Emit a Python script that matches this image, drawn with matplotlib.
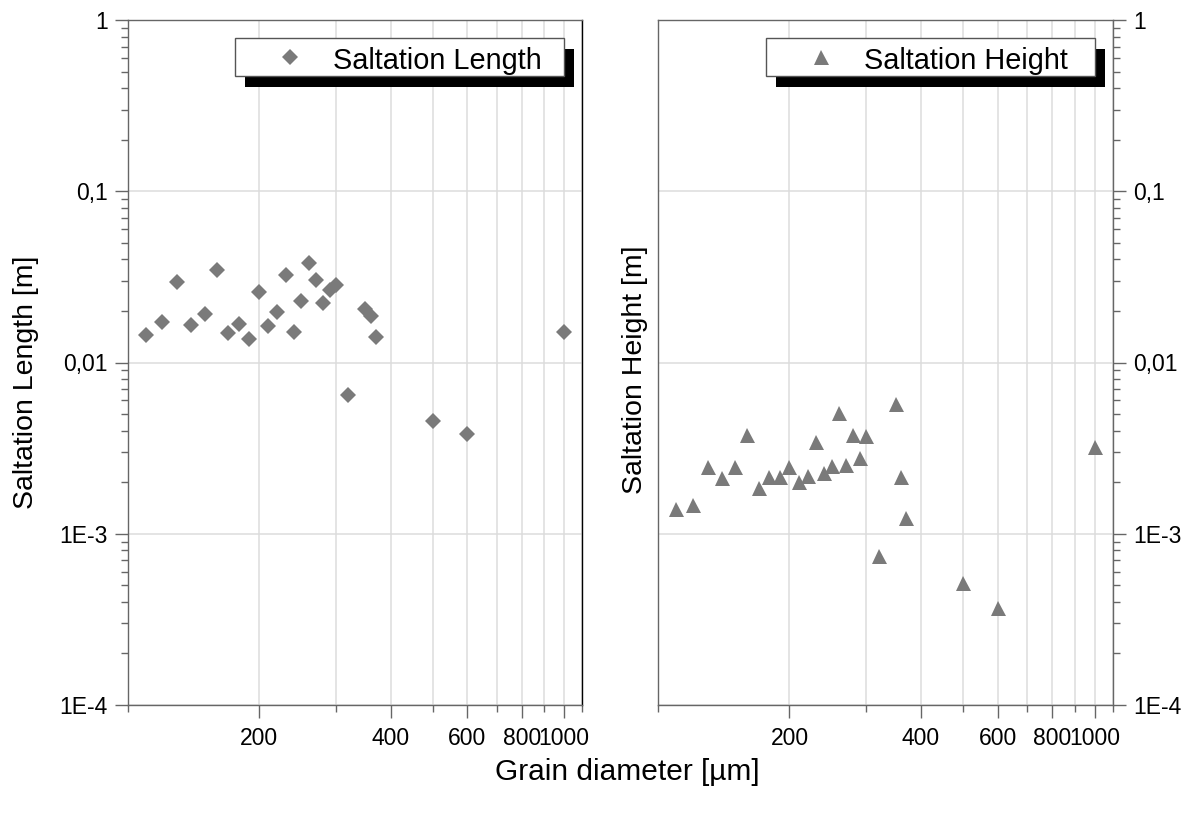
import matplotlib
matplotlib.use('Agg')
import matplotlib.pyplot as plt
from matplotlib.ticker import FixedLocator, FixedFormatter, NullFormatter, LogLocator
from matplotlib.patches import Rectangle

# ---------------- data ----------------
grain_diameter = [110, 120, 130, 140, 150, 160, 170, 180, 190, 200, 210, 220, 230, 240,
                  250, 260, 270, 280, 290, 300, 320, 350, 360, 370, 500, 600, 1000]
saltation_length = [0.01448, 0.01724, 0.02963, 0.01649, 0.0192, 0.03467, 0.01493, 0.0167,
                    0.01371, 0.02581, 0.01634, 0.01972, 0.03257, 0.01508, 0.02296, 0.03795,
                    0.0302, 0.02235, 0.02651, 0.02823, 0.00646, 0.02046, 0.01869, 0.01403,
                    0.00454, 0.00381, 0.01513]
saltation_height = [0.00140, 0.00148, 0.00246, 0.00212, 0.00246, 0.00377, 0.00184, 0.00214,
                    0.00215, 0.00246, 0.00200, 0.00218, 0.00345, 0.00227, 0.00249, 0.00505,
                    0.00252, 0.00377, 0.00276, 0.00372, 0.000744, 0.00570, 0.00214, 0.00123,
                    0.000518, 0.000367, 0.00322]

x_major_ticks = [200, 400, 600, 800, 1000]
x_major_labels = ['200', '400', '600', '800', '1000']
x_minor_ticks = [100, 300, 500, 700, 900, 1100]
y_major_ticks = [1e-4, 1e-3, 1e-2, 1e-1, 1]
y_major_labels = ['1E-4', '1E-3', '0,01', '0,1', '1']

plt.rcParams['font.family'] = ['Liberation Sans', 'DejaVu Sans']

W, H = 1194, 814
fig = plt.figure(figsize=(W / 100, H / 100), dpi=100)


def axrect(l, t, r, b):
    return [l / W, 1 - b / H, (r - l) / W, (b - t) / H]


ax1 = fig.add_axes(axrect(127.7, 20, 582.3, 705))
ax2 = fig.add_axes(axrect(658, 20, 1112.7, 705))

POINT_COLOR = '#7a7a7a'
GRID_COLOR = '#dcdcdc'
SPINE_COLOR = '#666666'


def style_axes(ax):
    ax.set_xscale('log')
    ax.set_yscale('log')
    ax.set_xlim(100, 1100)
    ax.set_ylim(1e-4, 1)
    ax.xaxis.set_major_locator(FixedLocator(x_major_ticks))
    ax.xaxis.set_major_formatter(FixedFormatter(x_major_labels))
    ax.xaxis.set_minor_locator(FixedLocator(x_minor_ticks))
    ax.xaxis.set_minor_formatter(NullFormatter())
    ax.yaxis.set_major_locator(FixedLocator(y_major_ticks))
    ax.yaxis.set_major_formatter(FixedFormatter(y_major_labels))
    ax.yaxis.set_minor_locator(LogLocator(base=10, subs=range(2, 10), numticks=20))
    ax.yaxis.set_minor_formatter(NullFormatter())
    ax.set_axisbelow(True)
    ax.grid(True, which='major', axis='both', color=GRID_COLOR, lw=1.1)
    ax.grid(True, which='minor', axis='x', color=GRID_COLOR, lw=1.1)
    ax.tick_params(axis='both', which='major', direction='out', length=9.5, width=1.0,
                   color=SPINE_COLOR, labelsize=16.5, pad=5)
    ax.tick_params(axis='both', which='minor', direction='out', length=5, width=1.0,
                   color=SPINE_COLOR)
    ax.tick_params(axis='x', which='major', pad=6)
    for s in ax.spines.values():
        s.set_color(SPINE_COLOR)
        s.set_linewidth(1.0)


style_axes(ax1)
style_axes(ax2)
ax1.spines['right'].set_color('black')

ax2.yaxis.tick_right()
ax2.yaxis.set_label_position('left')
ax2.tick_params(axis='y', which='both', left=False, right=True, labelleft=False, labelright=True)

ax1.plot(grain_diameter, saltation_length, linestyle='none', marker='D', ms=8.0,
         mew=0, color=POINT_COLOR, clip_on=False, zorder=3)
ax2.plot(grain_diameter, saltation_height, linestyle='none', marker='^', ms=10.8,
         mew=0, color=POINT_COLOR, clip_on=False, zorder=3)

ax1.set_ylabel('Saltation Length [m]', fontsize=20.5)
ax1.yaxis.label.set_verticalalignment('center')
ax1.yaxis.set_label_coords(-0.224, 0.4715)
ax2.set_ylabel('Saltation Height [m]', fontsize=20.5)
ax2.yaxis.label.set_verticalalignment('center')
ax2.yaxis.set_label_coords(-0.0506, 0.489)

fig.text(627 / W, 1 - 772 / H, 'Grain diameter [µm]', ha='center', va='center', fontsize=21.5)


def draw_legend(ax, marker, ms, label):
    axw, axh = 454.6, 685.0
    x0, x1 = 0.2365, 0.960
    y0, y1 = 0.9185, 0.9737
    dx, dy = 10 / axw, 11 / axh
    ax.add_patch(Rectangle((x0 + dx, y0 - dy), x1 - x0, y1 - y0, transform=ax.transAxes,
                           facecolor='black', edgecolor='none', clip_on=False, zorder=5))
    ax.add_patch(Rectangle((x0, y0), x1 - x0, y1 - y0, transform=ax.transAxes,
                           facecolor='white', edgecolor='#555555', lw=1.0,
                           clip_on=False, zorder=6))
    ax.plot([x0 + 55 / axw], [0.9467], linestyle='none', marker=marker, ms=ms, mew=0,
            color=POINT_COLOR, transform=ax.transAxes, clip_on=False, zorder=7)
    ax.text(x0 + 98 / axw, 0.9285, label, ha='left', va='baseline', fontsize=20.8,
            transform=ax.transAxes, zorder=7)


draw_legend(ax1, 'D', 8.0, 'Saltation Length')
draw_legend(ax2, '^', 10.8, 'Saltation Height')

ax1.set_xlim(100, 1100)
ax1.set_ylim(1e-4, 1)
ax2.set_xlim(100, 1100)
ax2.set_ylim(1e-4, 1)

fig.savefig('out.png', dpi=100)
